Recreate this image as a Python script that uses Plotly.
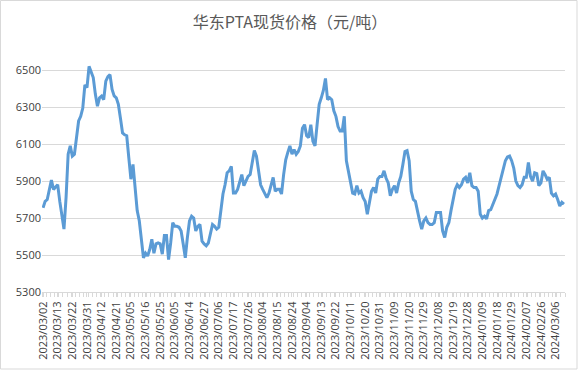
import pandas as pd
import plotly.graph_objects as go

# Trading-day calendar (China futures market)
start_date = "2023-03-02"
end_date = "2024-03-12"
holidays = ["2023-04-05", "2023-05-01", "2023-05-02", "2023-05-03",
            "2023-06-22", "2023-06-23", "2023-09-29", "2023-10-02",
            "2023-10-03", "2023-10-04", "2023-10-05", "2023-10-06",
            "2024-01-01", "2024-02-09", "2024-02-12", "2024-02-13",
            "2024-02-14", "2024-02-15", "2024-02-16"]

prices = [
    5755, 5790, 5800, 5855, 5905, 5855, 5870, 5880, 5790, 5700,
    5640, 5810, 6045, 6090, 6035, 6045, 6150, 6225, 6250, 6295,
    6420, 6405, 6520, 6485, 6460, 6370, 6305, 6350, 6360, 6340,
    6440, 6465, 6475, 6395, 6360, 6350, 6315, 6240, 6160, 6150,
    6145, 6025, 5910, 5990, 5865, 5740, 5685, 5585, 5485, 5510,
    5495, 5530, 5585, 5510, 5560, 5565, 5560, 5505, 5605, 5605,
    5475, 5565, 5675, 5655, 5655, 5650, 5630, 5560, 5485, 5595,
    5685, 5710, 5700, 5630, 5655, 5665, 5575, 5560, 5550, 5565,
    5610, 5665, 5655, 5640, 5650, 5740, 5830, 5880, 5945, 5955,
    5980, 5835, 5835, 5855, 5890, 5935, 5875, 5900, 5925, 5935,
    6010, 6065, 6035, 5955, 5880, 5855, 5830, 5810, 5835, 5875,
    5920, 5845, 5855, 5855, 5830, 5935, 6015, 6055, 6090, 6045,
    6070, 6045, 6060, 6090, 6185, 6205, 6145, 6135, 6205, 6115,
    6090, 6205, 6315, 6350, 6390, 6455, 6340, 6350, 6340, 6280,
    6250, 6195, 6170, 6170, 6250, 6010, 5955, 5910, 5835, 5830,
    5875, 5835, 5845, 5810, 5790, 5720, 5775, 5845, 5865, 5835,
    5910, 5925, 5925, 5955, 5915, 5890, 5820, 5855, 5875, 5835,
    5890, 5925, 5990, 6060, 6065, 6010, 5845, 5800, 5790, 5730,
    5685, 5640, 5685, 5700, 5675, 5665, 5665, 5675, 5730, 5730,
    5730, 5630, 5595, 5650, 5675, 5740, 5810, 5855, 5880, 5865,
    5880, 5910, 5920, 5890, 5945, 5875, 5865, 5865, 5845, 5720,
    5700, 5710, 5695, 5740, 5745, 5775, 5800, 5830, 5875, 5920,
    5955, 6010, 6030, 6035, 6010, 5970, 5900, 5875, 5865, 5880,
    5920, 5920, 6000, 5925, 5900, 5945, 5940, 5875, 5890, 5955,
    5935, 5910, 5920, 5835, 5820, 5830, 5800, 5765, 5785, 5775,
]

tick_labels = [
    "2023/03/02", "2023/03/13", "2023/03/22", "2023/03/31", "2023/04/12",
    "2023/04/21", "2023/05/05", "2023/05/16", "2023/05/25", "2023/06/05",
    "2023/06/14", "2023/06/27", "2023/07/06", "2023/07/17", "2023/07/26",
    "2023/08/04", "2023/08/15", "2023/08/24", "2023/09/04", "2023/09/13",
    "2023/09/22", "2023/10/11", "2023/10/20", "2023/10/31", "2023/11/09",
    "2023/11/20", "2023/11/29", "2023/12/08", "2023/12/19", "2023/12/28",
    "2024/01/09", "2024/01/18", "2024/01/29", "2024/02/07", "2024/02/26",
    "2024/03/06",
]
y_ticks = [5300, 5500, 5700, 5900, 6100, 6300, 6500]

days = pd.bdate_range(start_date, end_date)
days = [d for d in days if d.strftime("%Y-%m-%d") not in holidays]
dates = [d.strftime("%Y/%m/%d") for d in days][:len(prices)]
x_idx = list(range(len(prices)))
tick_pos = [dates.index(t) for t in tick_labels]

fig = go.Figure()
fig.add_trace(go.Scatter(
    x=x_idx, y=prices, mode="lines",
    line=dict(color="#5B9BD5", width=3),
    text=dates, hoverinfo="text+y",
))

fig.update_layout(
    width=580, height=371,
    margin=dict(l=42, r=15, t=59, b=79),
    paper_bgcolor="white", plot_bgcolor="white",
    showlegend=False,
    title=dict(text="华东PTA现货价格（元/吨）", x=0.5, xref="container",
               y=1 - 22 / 371, yref="container", yanchor="middle", xanchor="center",
               font=dict(family="Noto Sans CJK SC", size=16, color="#595959")),
    font=dict(family="Open Sans", size=11, color="#404040"),
)
fig.update_xaxes(
    range=[-0.5, len(prices) - 0.5],
    tickmode="array", tickvals=tick_pos, ticktext=tick_labels,
    tickangle=-90, tickfont=dict(size=11, color="#404040"),
    showgrid=False, zeroline=False,
    showline=True, linecolor="#d9d9d9", linewidth=1,
    ticks="outside", ticklen=4, tickcolor="#d9d9d9",
    minor=dict(ticks="outside", ticklen=4, tickcolor="#d9d9d9", dtick=2, tick0=-0.5, showgrid=False),
)
fig.update_yaxes(
    range=[5300, 6560],
    tickmode="array", tickvals=y_ticks,
    tickfont=dict(size=11, color="#404040"),
    showgrid=True, gridcolor="#d9d9d9", gridwidth=1,
    zeroline=False, showline=False, ticks="",
)

# light chart-area border
fig.add_shape(type="rect", xref="paper", yref="paper",
              x0=(0.5 - 42) / 523, x1=(577 - 42) / 523,
              y0=(292 - 369) / 233, y1=(292 - 0.5) / 233,
              line=dict(color="#d9d9d9", width=1), layer="below")

fig.write_html("out.html", config={"displayModeBar": False},
               post_script="document.body.style.margin='0';document.body.style.overflow='hidden';")
